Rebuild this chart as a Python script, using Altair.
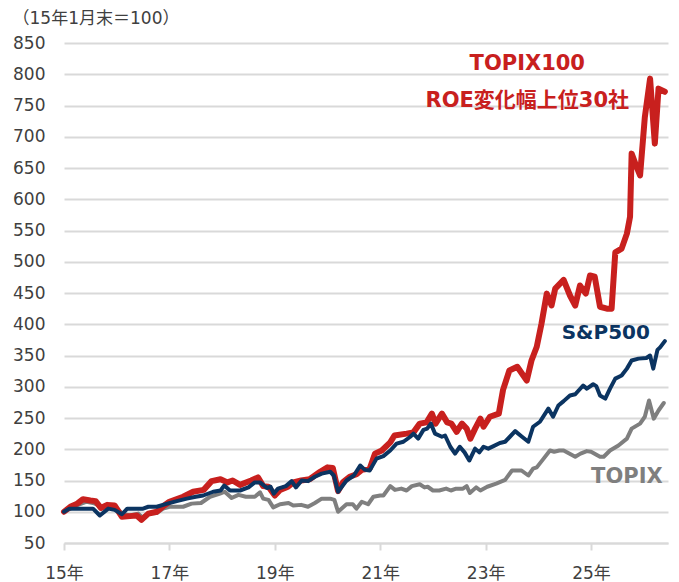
import altair as alt
import pandas as pd

# ---- data (decimal year, index value; Jan 2015 = 100) ----
red_x = [2015.00, 2015.12, 2015.25, 2015.36, 2015.50, 2015.60, 2015.70, 2015.82, 2015.96,
         2016.10, 2016.25, 2016.38, 2016.47, 2016.60, 2016.76, 2016.90, 2017.00, 2017.26,
         2017.45, 2017.65, 2017.80, 2017.97, 2018.10, 2018.20, 2018.34, 2018.55, 2018.68,
         2018.78, 2018.88, 2019.00, 2019.10, 2019.25, 2019.35, 2019.50, 2019.66, 2019.86,
         2020.00, 2020.10, 2020.20, 2020.30, 2020.42, 2020.55, 2020.65, 2020.80, 2020.90,
         2021.03, 2021.19, 2021.27, 2021.50, 2021.63, 2021.75, 2021.88, 2021.98, 2022.05,
         2022.17, 2022.27, 2022.35, 2022.45, 2022.55, 2022.64, 2022.71, 2022.80, 2022.90,
         2022.96, 2023.08, 2023.25, 2023.33, 2023.45, 2023.60, 2023.78, 2023.87, 2023.97,
         2024.06, 2024.16, 2024.25, 2024.32, 2024.48, 2024.60, 2024.70, 2024.79, 2024.90,
         2024.98, 2025.07, 2025.17, 2025.30, 2025.39, 2025.46, 2025.58, 2025.68, 2025.74,
         2025.77, 2025.84, 2025.93, 2026.02, 2026.12, 2026.21, 2026.28, 2026.40]
red_y = [100, 108, 113, 120, 118, 117, 106, 111, 110,
         92, 93, 94, 87, 97, 100, 110, 116, 124,
         132, 135, 149, 152, 147, 150, 143, 150, 155,
         141, 140, 126, 135, 140, 147, 150, 152, 164,
         171, 170, 133, 148, 156, 160, 167, 169, 193,
         198, 211, 222, 225, 227, 241, 243, 257, 241,
         257, 243, 241, 228, 241, 233, 217, 233, 249,
         236, 252, 257, 295, 326, 332, 310, 342, 364,
         401, 449, 430, 457, 471, 446, 430, 462, 449,
         478, 476, 428, 425, 425, 515, 521, 545, 572,
         673, 657, 638, 731, 793, 689, 777, 772]

navy_x = [2015.00, 2015.10, 2015.55, 2015.68, 2015.84, 2015.96, 2016.10, 2016.20, 2016.50,
          2016.60, 2016.76, 2016.96, 2017.14, 2017.33, 2017.50, 2017.64, 2017.83, 2017.97,
          2018.04, 2018.15, 2018.34, 2018.50, 2018.62, 2018.72, 2018.85, 2018.92, 2018.98,
          2019.06, 2019.21, 2019.32, 2019.40, 2019.51, 2019.63, 2019.76, 2019.89, 2020.05,
          2020.12, 2020.20, 2020.36, 2020.50, 2020.62, 2020.71, 2020.80, 2020.93, 2021.06,
          2021.19, 2021.31, 2021.44, 2021.57, 2021.63, 2021.72, 2021.82, 2021.89, 2021.96,
          2022.04, 2022.17, 2022.23, 2022.33, 2022.42, 2022.51, 2022.60, 2022.69, 2022.80,
          2022.88, 2022.96, 2023.05, 2023.15, 2023.27, 2023.37, 2023.46, 2023.56, 2023.69,
          2023.81, 2023.90, 2024.03, 2024.19, 2024.28, 2024.38, 2024.48, 2024.60, 2024.70,
          2024.85, 2024.92, 2025.04, 2025.10, 2025.17, 2025.27, 2025.36, 2025.46, 2025.58,
          2025.68, 2025.77, 2025.90, 2026.05, 2026.12, 2026.18, 2026.26, 2026.31, 2026.40]
navy_y = [100, 105, 105, 94, 105, 103, 96, 105, 105,
          108, 108, 113, 117, 121, 124, 126, 132, 134,
          142, 134, 134, 139, 147, 147, 138, 140, 129,
          137, 141, 149, 139, 150, 149, 156, 161, 164,
          158, 132, 150, 158, 174, 167, 166, 185, 189,
          198, 209, 212, 220, 225, 217, 231, 233, 241,
          225, 220, 222, 204, 193, 204, 195, 182, 201,
          195, 204, 201, 205, 210, 212, 220, 229, 220,
          212, 236, 244, 265, 252, 270, 277, 286, 288,
          302, 297, 304, 301, 286, 281, 297, 313, 318,
          329, 342, 345, 346, 350, 329, 359, 363, 373]

gray_x = [2015.00, 2015.24, 2015.43, 2015.55, 2015.72, 2015.82, 2015.96, 2016.10, 2016.25,
          2016.41, 2016.49, 2016.60, 2016.76, 2016.88, 2017.00, 2017.26, 2017.42, 2017.60,
          2017.77, 2017.96, 2018.05, 2018.18, 2018.31, 2018.45, 2018.62, 2018.72, 2018.78,
          2018.88, 2018.97, 2019.10, 2019.26, 2019.35, 2019.50, 2019.63, 2019.76, 2019.89,
          2020.05, 2020.13, 2020.20, 2020.36, 2020.48, 2020.55, 2020.65, 2020.77, 2020.87,
          2021.00, 2021.06, 2021.19, 2021.28, 2021.40, 2021.50, 2021.60, 2021.75, 2021.84,
          2021.90, 2022.00, 2022.12, 2022.25, 2022.34, 2022.44, 2022.57, 2022.64, 2022.70,
          2022.82, 2022.90, 2023.03, 2023.20, 2023.37, 2023.50, 2023.68, 2023.81, 2023.90,
          2023.97, 2024.10, 2024.22, 2024.30, 2024.40, 2024.48, 2024.70, 2024.80, 2024.92,
          2025.00, 2025.17, 2025.24, 2025.36, 2025.52, 2025.68, 2025.77, 2025.93, 2026.02,
          2026.10, 2026.19, 2026.28, 2026.38]
gray_y = [100, 110, 116, 114, 108, 111, 110, 97, 94,
          97, 91, 97, 98, 105, 108, 108, 113, 114,
          124, 129, 132, 122, 127, 124, 124, 131, 121,
          119, 107, 112, 114, 110, 111, 108, 114, 121,
          121, 119, 100, 112, 112, 105, 116, 112, 124,
          126, 126, 141, 135, 137, 134, 141, 144, 139,
          140, 134, 134, 137, 134, 137, 137, 141, 130,
          139, 134, 140, 145, 151, 166, 166, 158, 169,
          171, 185, 198, 196, 198, 198, 188, 193, 197,
          196, 188, 188, 198, 206, 217, 233, 241, 252,
          278, 249, 262, 274]

tick_years = [2015, 2017, 2019, 2021, 2023, 2025]
tick_labels = ["15年", "17年", "19年", "21年", "23年", "25年"]
y_ticks = list(range(50, 851, 50))

label_text = ["TOPIX100", "ROE変化幅上位30社", "S&P500", "TOPIX"]
label_x = [2023.79, 2023.79, 2025.28, 2025.68]
label_y = [816, 757, 386, 155]
label_color = ["#c8201e", "#c8201e", "#0b3461", "#7f7f7f"]
label_size = [21, 21, 20, 21]

RED, NAVY, GRAY = "#c8201e", "#0b3461", "#7f7f7f"
FONT = "DejaVu Sans, Noto Sans CJK JP, sans-serif"

red_df = pd.DataFrame({"x": red_x, "v": red_y})
navy_df = pd.DataFrame({"x": navy_x, "v": navy_y})
gray_df = pd.DataFrame({"x": gray_x, "v": gray_y})
lab_df = pd.DataFrame({"x": label_x, "v": label_y, "t": label_text,
                       "c": label_color, "s": label_size})

label_expr = "''"
for yv, lt in reversed(list(zip(tick_years, tick_labels))):
    label_expr = f"datum.value == {yv} ? '{lt}' : ({label_expr})"

xscale = alt.Scale(domain=[2015, 2026.46], nice=False, zero=False)
yscale = alt.Scale(domain=[50, 850], nice=False, zero=False)

xaxis = alt.Axis(values=tick_years, labelExpr=label_expr, title=None, grid=False,
                 domain=True, domainColor="#d9d9d9", domainWidth=2,
                 ticks=True, tickColor="#d9d9d9", tickWidth=2, tickSize=7,
                 labelFontSize=17, labelColor="#404040", labelPadding=15, labelFont=FONT,
                 labelFlush=False, labelOverlap=False)
yaxis = alt.Axis(values=y_ticks, title=None, grid=True, gridColor="#d9d9d9", gridWidth=2,
                 domain=False, ticks=False, labelFontSize=17, labelColor="#404040",
                 labelPadding=19, labelFont=FONT, labelFlush=False, labelOverlap=False)

X = alt.X("x:Q", scale=xscale, axis=xaxis)
Y = alt.Y("v:Q", scale=yscale, axis=yaxis)

def line(df, color, w):
    return alt.Chart(df).mark_line(color=color, strokeWidth=w, strokeJoin="round",
                                   strokeCap="round").encode(x=X, y=Y)

gray_line = line(gray_df, GRAY, 4)
red_line = line(red_df, RED, 6)
navy_line = line(navy_df, NAVY, 4)

labels = alt.Chart(lab_df).mark_text(fontWeight="bold", font=FONT, align="center",
                                     baseline="middle").encode(
    x=X, y=Y,
    text="t:N",
    color=alt.Color("c:N", scale=None),
    size=alt.Size("s:Q", scale=None, legend=None),
)

chart = alt.layer(gray_line, red_line, navy_line, labels).properties(
    width=604, height=500,
    autosize=alt.AutoSizeParams(type="none"),
    padding={"left": 64, "top": 43, "right": 11, "bottom": 39},
    title=alt.TitleParams("（15年1月末＝100）", anchor="start", frame="bounds",
                          fontSize=17, fontWeight="normal", color="#404040",
                          font=FONT, offset=6),
).configure_view(stroke=None)

chart.save("out.html", embed_options={"renderer": "svg", "actions": False})
